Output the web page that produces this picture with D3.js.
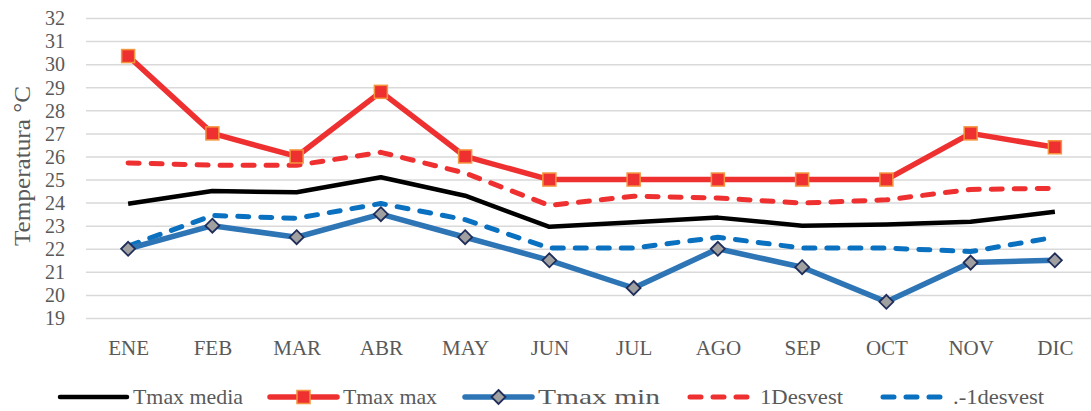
<!DOCTYPE html>
<html>
<head>
<meta charset="utf-8">
<script src="https://cdn.jsdelivr.net/npm/d3@7.9.0/dist/d3.min.js"></script>
<style>
  body { margin: 0; background: #fff; }
</style>
</head>
<body>
<svg id="chart" width="1091" height="411"></svg>
<script>
const months = ['ENE', 'FEB', 'MAR', 'ABR', 'MAY', 'JUN', 'JUL', 'AGO', 'SEP', 'OCT', 'NOV', 'DIC'];
const yTicks = [19, 20, 21, 22, 23, 24, 25, 26, 27, 28, 29, 30, 31, 32];

const tmaxMedia = [23.95, 24.5, 24.45, 25.1, 24.3, 22.95, 23.15, 23.35, 23.0, 23.05, 23.17, 23.6];
const tmaxMax = [30.35, 27.0, 26.0, 28.8, 26.0, 25.0, 25.0, 25.0, 25.0, 25.0, 27.0, 26.4];
const tmaxMin = [22.0, 23.0, 22.5, 23.5, 22.5, 21.5, 20.3, 22.0, 21.2, 19.7, 21.4, 21.5];
const desvPlus = [25.72, 25.62, 25.62, 26.18, 25.28, 23.88, 24.28, 24.2, 23.98, 24.12, 24.57, 24.62];
const desvMinus = [22.12, 23.44, 23.32, 23.96, 23.26, 22.03, 22.03, 22.5, 22.03, 22.03, 21.88, 22.5];

const series = [
  { name: 'Tmax media', values: tmaxMedia, color: '#000000', width: 4.5, dash: null, marker: null, tw: 110 },
  { name: 'Tmax max', values: tmaxMax, color: '#EE3030', width: 5.5, dash: null, marker: 'square', tw: 94 },
  { name: 'Tmax min', values: tmaxMin, color: '#2E75B6', width: 5.5, dash: null, marker: 'diamond', tw: 122 },
  { name: '1Desvest', values: desvPlus, color: '#EE3030', width: 5, dash: '11,12', marker: null, tw: 83 },
  { name: '.-1desvest', values: desvMinus, color: '#0A70C0', width: 5, dash: '11,12', marker: null, tw: 91 }
];

const FONT = '"Liberation Serif", "DejaVu Serif", "Times New Roman", serif';
const svg = d3.select('#chart');
const plotLeft = 86, plotRight = 1097, plotTop = 18, plotBottom = 318;

const x = d3.scalePoint().domain(months).range([plotLeft, plotRight]).padding(0.5);
const y = d3.scaleLinear().domain([19, 32]).range([plotBottom, plotTop]);

// grid + y labels
const yAxis = svg.append('g')
  .attr('transform', `translate(${plotLeft},0)`)
  .call(d3.axisLeft(y).tickValues(yTicks).tickSize(-(plotRight - plotLeft)).tickPadding(21).tickFormat(d3.format('d')));
yAxis.select('.domain').remove();
yAxis.selectAll('line').attr('stroke', '#D9D9D9').attr('stroke-width', 1.5);
yAxis.selectAll('text').attr('font-size', 20).attr('dy', '0.34em');

// x labels
const xAxis = svg.append('g')
  .attr('transform', `translate(0,${plotBottom})`)
  .call(d3.axisBottom(x).tickSize(0).tickPadding(37));
xAxis.select('.domain').remove();
xAxis.selectAll('text').attr('font-size', 21).attr('dy', '0');

// y title
svg.append('text')
  .attr('transform', 'translate(30,166) rotate(-90)')
  .attr('text-anchor', 'middle')
  .attr('font-size', 24)
  .attr('textLength', 160).attr('lengthAdjust', 'spacingAndGlyphs')
  .text('Temperatura °C');

const line = d3.line().x((d, i) => x(months[i])).y(d => y(d));

function drawMarkers(g, s, pts) {
  if (s.marker === 'square') {
    g.selectAll(null).data(pts).join('rect')
      .attr('x', d => d[0] - 6.5).attr('y', d => d[1] - 6.5)
      .attr('width', 13).attr('height', 13)
      .attr('fill', '#EE3030').attr('stroke', '#F4943C').attr('stroke-width', 1.5);
  } else if (s.marker === 'diamond') {
    g.selectAll(null).data(pts).join('path')
      .attr('d', d => `M${d[0]},${d[1] - 7}L${d[0] + 7},${d[1]}L${d[0]},${d[1] + 7}L${d[0] - 7},${d[1]}Z`)
      .attr('fill', '#A0A0A0').attr('stroke', '#1F2D5A').attr('stroke-width', 1.8);
  }
}

// draw order: media, dashed, then solids with markers on top
const order = [0, 3, 4, 2, 1];
order.forEach(k => {
  const s = series[k];
  const g = svg.append('g');
  g.append('path')
    .datum(s.values)
    .attr('d', line)
    .attr('fill', 'none')
    .attr('stroke', s.color)
    .attr('stroke-width', s.width)
    .attr('stroke-linejoin', 'round')
    .attr('stroke-linecap', s.dash ? 'round' : 'butt')
    .attr('stroke-dasharray', s.dash);
  drawMarkers(g, s, s.values.map((v, i) => [x(months[i]), y(v)]));
});

// legend
const legendX = [60, 270, 465, 687, 880];
const legendY = 397;
series.forEach((s, i) => {
  const g = svg.append('g');
  const x0 = legendX[i], x1 = x0 + 67;
  g.append('line')
    .attr('x1', s.dash ? x0 + 3 : x0).attr('x2', s.dash ? x1 - 3 : x1)
    .attr('y1', legendY).attr('y2', legendY)
    .attr('stroke', s.color).attr('stroke-width', s.width)
    .attr('stroke-linecap', 'round')
    .attr('stroke-dasharray', s.dash);
  drawMarkers(g, s, [[(x0 + x1) / 2, legendY]]);
  g.append('text')
    .attr('x', x1 + 6).attr('y', legendY + 7)
    .attr('font-size', 21)
    .attr('textLength', s.tw).attr('lengthAdjust', 'spacingAndGlyphs')
    .text(s.name);
});

// shared text styling
svg.selectAll('text').style('font-family', FONT).attr('fill', '#595959');
</script>
</body>
</html>
